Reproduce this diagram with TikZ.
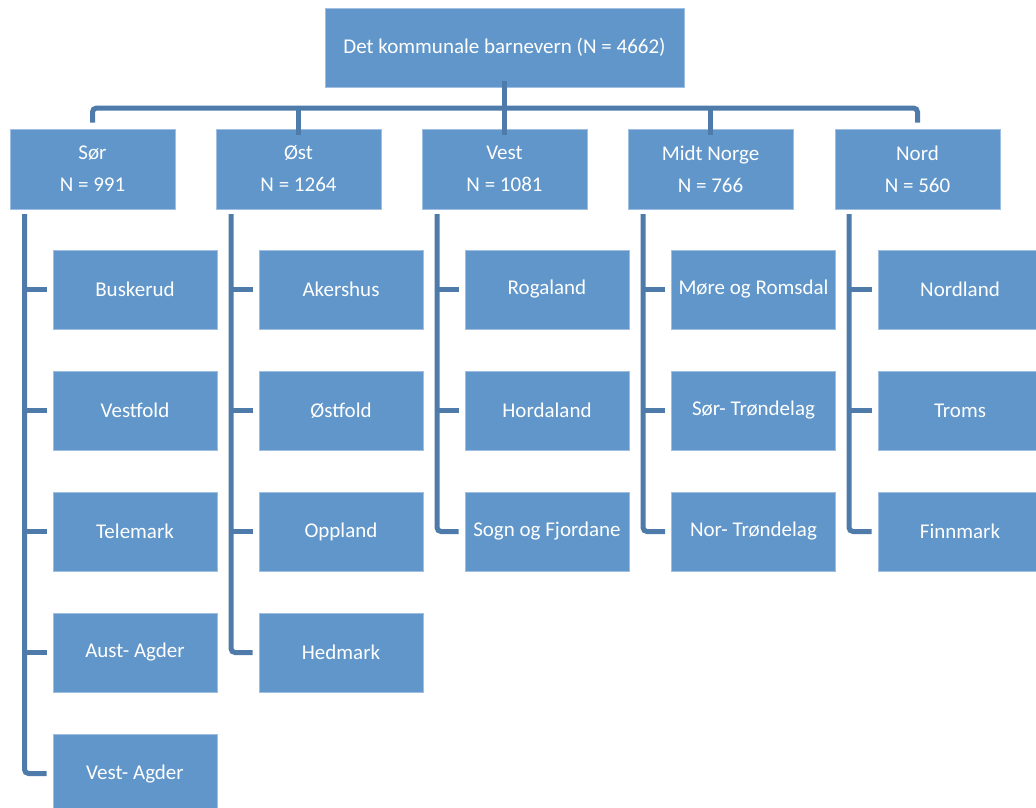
\documentclass[tikz,border=0pt]{standalone}
\usepackage{fontspec}
\setmainfont{Carlito}
\definecolor{boxfill}{RGB}{96,150,201}
\definecolor{boxedge}{RGB}{160,190,225}
\definecolor{linecol}{RGB}{79,123,170}
\begin{document}
\begin{tikzpicture}[x=1pt,y=-1pt,
  box/.style={draw=boxedge,line width=0.8pt,fill=boxfill,text=white,inner sep=0pt,
    minimum width=164pt,minimum height=79pt,align=center,font=\fontsize{21}{25}\selectfont},
  topbox/.style={box,minimum width=359pt},
  regbox/.style={box,minimum width=165pt,minimum height=80pt},
  conn/.style={draw=linecol,line width=5pt,rounded corners=4pt}]
\clip (0,0) rectangle (1036,807);
\fill[white] (0,0) rectangle (1036,807);
% top
\node[topbox] (top) at (504.5,47.5) {Det kommunale barnevern (N = 4662)};
% regions
\node[regbox] (sor) at (92.5,169) {Sør\\[7pt]N = 991};
\node[regbox] (ost) at (298.5,169) {Øst\\[7pt]N = 1264};
\node[regbox] (vest) at (504.5,169) {Vest\\[7pt]N = 1081};
\node[regbox] (midt) at (710.5,169) {Midt Norge\\[7pt]N = 766};
\node[regbox] (nord) at (917.5,169) {Nord\\[7pt]N = 560};
% counties
\node[box] (s1) at (135,289.5) {Buskerud};
\node[box] (s2) at (135,410.5) {Vestfold};
\node[box] (s3) at (135,531.5) {Telemark};
\node[box] (s4) at (135,652.5) {Aust- Agder};
\node[box] (s5) at (135,773.5) {Vest- Agder};
\node[box] (o1) at (341,289.5) {Akershus};
\node[box] (o2) at (341,410.5) {Østfold};
\node[box] (o3) at (341,531.5) {Oppland};
\node[box] (o4) at (341,652.5) {Hedmark};
\node[box] (v1) at (547,289.5) {Rogaland};
\node[box] (v2) at (547,410.5) {Hordaland};
\node[box] (v3) at (547,531.5) {Sogn og Fjordane};
\node[box] (m1) at (753.5,289.5) {Møre og Romsdal};
\node[box] (m2) at (753.5,410.5) {Sør- Trøndelag};
\node[box] (m3) at (753.5,531.5) {Nor- Trøndelag};
\node[box] (n1) at (960,289.5) {Nordland};
\node[box] (n2) at (960,410.5) {Troms};
\node[box] (n3) at (960,531.5) {Finnmark};
% bus
\coordinate (busL) at (92.5,108);
\coordinate (busR) at (917.5,108);
\path[conn] ([yshift=6pt]sor.north) -- (busL) -- (busR) -- ([yshift=6pt]nord.north);
\path[conn] ([yshift=6pt]top.south) -- ([yshift=-6pt]vest.north);
\path[conn] (ost.north |- busL) -- ([yshift=-6pt]ost.north);
\path[conn] (midt.north |- busL) -- ([yshift=-6pt]midt.north);
% column trunks
\coordinate (sx) at (24.5,214);
\coordinate (ox) at (231,214);
\coordinate (vx) at (437,214);
\coordinate (mx) at (643,214);
\coordinate (nx) at (849,214);
\path[conn] (sx) |- ([xshift=-6pt]s5.west);
\foreach \c in {s1,s2,s3,s4}{\path[conn,rounded corners=0pt] (sx |- \c.west) -- ([xshift=-6pt]\c.west);}
\path[conn] (ox) |- ([xshift=-6pt]o4.west);
\foreach \c in {o1,o2,o3}{\path[conn,rounded corners=0pt] (ox |- \c.west) -- ([xshift=-6pt]\c.west);}
\path[conn] (vx) |- ([xshift=-6pt]v3.west);
\foreach \c in {v1,v2}{\path[conn,rounded corners=0pt] (vx |- \c.west) -- ([xshift=-6pt]\c.west);}
\path[conn] (mx) |- ([xshift=-6pt]m3.west);
\foreach \c in {m1,m2}{\path[conn,rounded corners=0pt] (mx |- \c.west) -- ([xshift=-6pt]\c.west);}
\path[conn] (nx) |- ([xshift=-6pt]n3.west);
\foreach \c in {n1,n2}{\path[conn,rounded corners=0pt] (nx |- \c.west) -- ([xshift=-6pt]\c.west);}
\end{tikzpicture}
\end{document}
